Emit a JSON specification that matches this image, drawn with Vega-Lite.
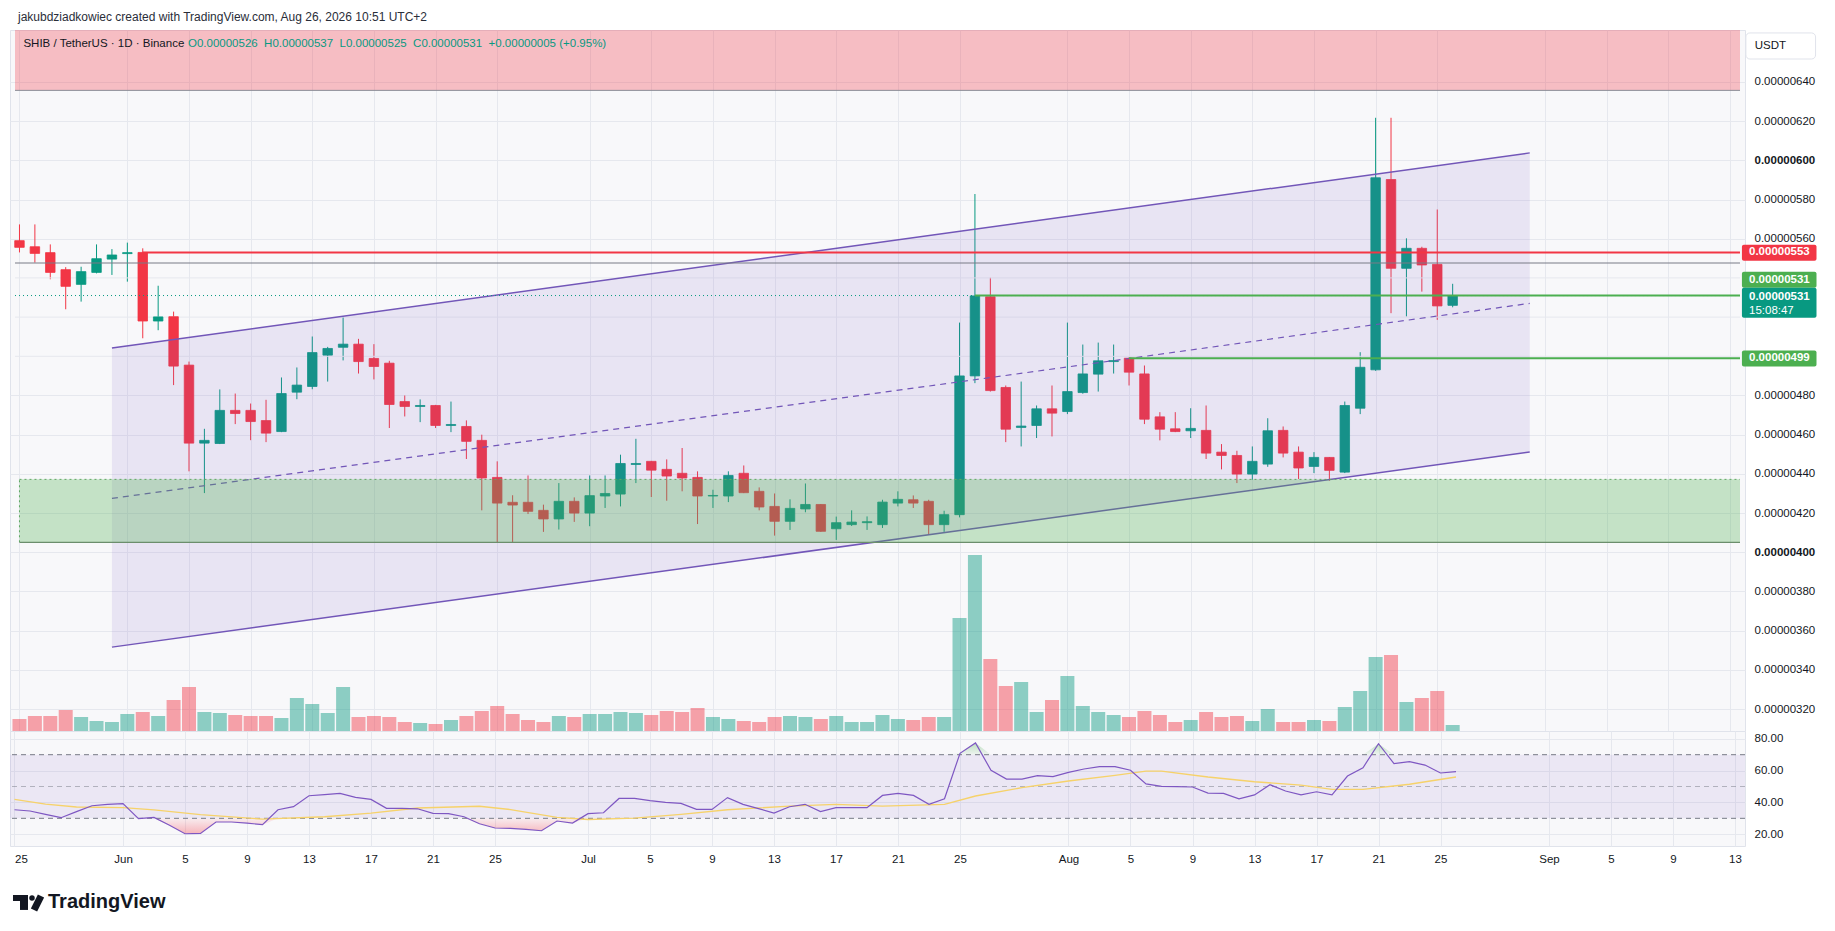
{
  "$schema": "https://vega.github.io/schema/vega-lite/v6.json",
  "background": "white",
  "padding": {"left": 9, "top": 0, "right": 5, "bottom": 5},
  "bounds": "flush",
  "spacing": 0,
  "config": {
    "view": {"stroke": "#e0e3eb", "fill": "#f8f8fa"},
    "axis": {"labelFont": "Liberation Sans", "labelFontSize": 11.5, "labelColor": "#131722", "gridColor": "#e6e8ee", "gridWidth": 1, "domain": false, "tickSize": 0, "tickOpacity": 0},
    "text": {"font": "Liberation Sans"}
  },
  "datasets": {
    "candles": [
      {"d":"2026-05-25","o":5.590e-6,"h":5.673e-6,"l":5.530e-6,"c":5.556e-6,"vol":120,"rsi":35.4},
      {"d":"2026-05-26","o":5.559e-6,"h":5.673e-6,"l":5.478e-6,"c":5.525e-6,"vol":150,"rsi":34.6},
      {"d":"2026-05-27","o":5.529e-6,"h":5.571e-6,"l":5.393e-6,"c":5.428e-6,"vol":150,"rsi":32.5},
      {"d":"2026-05-28","o":5.442e-6,"h":5.455e-6,"l":5.240e-6,"c":5.357e-6,"vol":210,"rsi":30.4},
      {"d":"2026-05-29","o":5.367e-6,"h":5.457e-6,"l":5.279e-6,"c":5.432e-6,"vol":140,"rsi":34.2},
      {"d":"2026-05-30","o":5.428e-6,"h":5.571e-6,"l":5.423e-6,"c":5.498e-6,"vol":100,"rsi":37.9},
      {"d":"2026-05-31","o":5.496e-6,"h":5.547e-6,"l":5.415e-6,"c":5.517e-6,"vol":90,"rsi":38.8},
      {"d":"2026-06-01","o":5.524e-6,"h":5.580e-6,"l":5.381e-6,"c":5.529e-6,"vol":170,"rsi":39.2},
      {"d":"2026-06-02","o":5.530e-6,"h":5.551e-6,"l":5.092e-6,"c":5.180e-6,"vol":190,"rsi":29.8},
      {"d":"2026-06-03","o":5.180e-6,"h":5.360e-6,"l":5.133e-6,"c":5.201e-6,"vol":150,"rsi":30.6},
      {"d":"2026-06-04","o":5.202e-6,"h":5.228e-6,"l":4.853e-6,"c":4.950e-6,"vol":310,"rsi":25.6},
      {"d":"2026-06-05","o":4.955e-6,"h":4.973e-6,"l":4.413e-6,"c":4.557e-6,"vol":440,"rsi":20.3},
      {"d":"2026-06-06","o":4.557e-6,"h":4.630e-6,"l":4.302e-6,"c":4.571e-6,"vol":190,"rsi":20.5},
      {"d":"2026-06-07","o":4.555e-6,"h":4.831e-6,"l":4.552e-6,"c":4.724e-6,"vol":180,"rsi":27.7},
      {"d":"2026-06-08","o":4.724e-6,"h":4.810e-6,"l":4.654e-6,"c":4.708e-6,"vol":160,"rsi":27.7},
      {"d":"2026-06-09","o":4.724e-6,"h":4.759e-6,"l":4.572e-6,"c":4.667e-6,"vol":150,"rsi":27.0},
      {"d":"2026-06-10","o":4.672e-6,"h":4.778e-6,"l":4.562e-6,"c":4.608e-6,"vol":150,"rsi":26.0},
      {"d":"2026-06-11","o":4.616e-6,"h":4.892e-6,"l":4.613e-6,"c":4.810e-6,"vol":130,"rsi":35.4},
      {"d":"2026-06-12","o":4.817e-6,"h":4.943e-6,"l":4.781e-6,"c":4.853e-6,"vol":330,"rsi":37.3},
      {"d":"2026-06-13","o":4.846e-6,"h":5.101e-6,"l":4.832e-6,"c":5.019e-6,"vol":270,"rsi":44.2},
      {"d":"2026-06-14","o":5.006e-6,"h":5.048e-6,"l":4.871e-6,"c":5.040e-6,"vol":180,"rsi":44.9},
      {"d":"2026-06-15","o":5.046e-6,"h":5.203e-6,"l":4.979e-6,"c":5.062e-6,"vol":440,"rsi":45.7},
      {"d":"2026-06-16","o":5.062e-6,"h":5.089e-6,"l":4.912e-6,"c":4.973e-6,"vol":140,"rsi":43.2},
      {"d":"2026-06-17","o":4.989e-6,"h":5.062e-6,"l":4.882e-6,"c":4.948e-6,"vol":150,"rsi":41.9},
      {"d":"2026-06-18","o":4.965e-6,"h":4.977e-6,"l":4.634e-6,"c":4.754e-6,"vol":140,"rsi":36.3},
      {"d":"2026-06-19","o":4.769e-6,"h":4.800e-6,"l":4.693e-6,"c":4.744e-6,"vol":90,"rsi":36.3},
      {"d":"2026-06-20","o":4.744e-6,"h":4.780e-6,"l":4.664e-6,"c":4.749e-6,"vol":80,"rsi":36.0},
      {"d":"2026-06-21","o":4.749e-6,"h":4.752e-6,"l":4.634e-6,"c":4.647e-6,"vol":70,"rsi":33.1},
      {"d":"2026-06-22","o":4.647e-6,"h":4.769e-6,"l":4.613e-6,"c":4.652e-6,"vol":110,"rsi":32.9},
      {"d":"2026-06-23","o":4.642e-6,"h":4.673e-6,"l":4.476e-6,"c":4.566e-6,"vol":150,"rsi":31.0},
      {"d":"2026-06-24","o":4.571e-6,"h":4.600e-6,"l":4.214e-6,"c":4.379e-6,"vol":200,"rsi":26.6},
      {"d":"2026-06-25","o":4.382e-6,"h":4.464e-6,"l":4.048e-6,"c":4.251e-6,"vol":250,"rsi":23.9},
      {"d":"2026-06-26","o":4.255e-6,"h":4.291e-6,"l":4.048e-6,"c":4.241e-6,"vol":170,"rsi":23.7},
      {"d":"2026-06-27","o":4.255e-6,"h":4.392e-6,"l":4.195e-6,"c":4.209e-6,"vol":110,"rsi":23.1},
      {"d":"2026-06-28","o":4.214e-6,"h":4.243e-6,"l":4.104e-6,"c":4.170e-6,"vol":90,"rsi":22.2},
      {"d":"2026-06-29","o":4.170e-6,"h":4.353e-6,"l":4.116e-6,"c":4.260e-6,"vol":150,"rsi":28.3},
      {"d":"2026-06-30","o":4.260e-6,"h":4.280e-6,"l":4.155e-6,"c":4.200e-6,"vol":140,"rsi":27.0},
      {"d":"2026-07-01","o":4.200e-6,"h":4.392e-6,"l":4.133e-6,"c":4.289e-6,"vol":170,"rsi":32.9},
      {"d":"2026-07-02","o":4.287e-6,"h":4.392e-6,"l":4.226e-6,"c":4.300e-6,"vol":170,"rsi":33.5},
      {"d":"2026-07-03","o":4.297e-6,"h":4.498e-6,"l":4.234e-6,"c":4.453e-6,"vol":190,"rsi":42.5},
      {"d":"2026-07-04","o":4.448e-6,"h":4.579e-6,"l":4.353e-6,"c":4.453e-6,"vol":180,"rsi":42.5},
      {"d":"2026-07-05","o":4.464e-6,"h":4.466e-6,"l":4.282e-6,"c":4.419e-6,"vol":160,"rsi":41.1},
      {"d":"2026-07-06","o":4.423e-6,"h":4.474e-6,"l":4.263e-6,"c":4.389e-6,"vol":200,"rsi":40.0},
      {"d":"2026-07-07","o":4.403e-6,"h":4.532e-6,"l":4.311e-6,"c":4.379e-6,"vol":190,"rsi":39.4},
      {"d":"2026-07-08","o":4.382e-6,"h":4.413e-6,"l":4.144e-6,"c":4.287e-6,"vol":230,"rsi":35.6},
      {"d":"2026-07-09","o":4.287e-6,"h":4.319e-6,"l":4.226e-6,"c":4.290e-6,"vol":140,"rsi":35.6},
      {"d":"2026-07-10","o":4.287e-6,"h":4.413e-6,"l":4.256e-6,"c":4.392e-6,"vol":120,"rsi":43.0},
      {"d":"2026-07-11","o":4.403e-6,"h":4.443e-6,"l":4.302e-6,"c":4.304e-6,"vol":100,"rsi":38.8},
      {"d":"2026-07-12","o":4.311e-6,"h":4.331e-6,"l":4.214e-6,"c":4.231e-6,"vol":90,"rsi":36.1},
      {"d":"2026-07-13","o":4.234e-6,"h":4.300e-6,"l":4.085e-6,"c":4.158e-6,"vol":140,"rsi":33.3},
      {"d":"2026-07-14","o":4.158e-6,"h":4.270e-6,"l":4.114e-6,"c":4.224e-6,"vol":150,"rsi":37.3},
      {"d":"2026-07-15","o":4.221e-6,"h":4.351e-6,"l":4.204e-6,"c":4.244e-6,"vol":140,"rsi":38.8},
      {"d":"2026-07-16","o":4.244e-6,"h":4.246e-6,"l":4.104e-6,"c":4.107e-6,"vol":120,"rsi":34.2},
      {"d":"2026-07-17","o":4.120e-6,"h":4.182e-6,"l":4.063e-6,"c":4.151e-6,"vol":150,"rsi":36.7},
      {"d":"2026-07-18","o":4.141e-6,"h":4.214e-6,"l":4.134e-6,"c":4.154e-6,"vol":90,"rsi":36.7},
      {"d":"2026-07-19","o":4.151e-6,"h":4.183e-6,"l":4.114e-6,"c":4.156e-6,"vol":90,"rsi":36.7},
      {"d":"2026-07-20","o":4.141e-6,"h":4.268e-6,"l":4.124e-6,"c":4.256e-6,"vol":160,"rsi":44.4},
      {"d":"2026-07-21","o":4.251e-6,"h":4.311e-6,"l":4.234e-6,"c":4.270e-6,"vol":120,"rsi":45.7},
      {"d":"2026-07-22","o":4.268e-6,"h":4.290e-6,"l":4.226e-6,"c":4.251e-6,"vol":110,"rsi":44.4},
      {"d":"2026-07-23","o":4.260e-6,"h":4.268e-6,"l":4.093e-6,"c":4.141e-6,"vol":140,"rsi":38.8},
      {"d":"2026-07-24","o":4.141e-6,"h":4.212e-6,"l":4.104e-6,"c":4.192e-6,"vol":140,"rsi":42.3},
      {"d":"2026-07-25","o":4.192e-6,"h":5.172e-6,"l":4.178e-6,"c":4.900e-6,"vol":1130,"rsi":70.9},
      {"d":"2026-07-26","o":4.900e-6,"h":5.828e-6,"l":4.863e-6,"c":5.308e-6,"vol":1760,"rsi":77.4},
      {"d":"2026-07-27","o":5.304e-6,"h":5.401e-6,"l":4.820e-6,"c":4.825e-6,"vol":720,"rsi":60.2},
      {"d":"2026-07-28","o":4.841e-6,"h":4.851e-6,"l":4.562e-6,"c":4.628e-6,"vol":450,"rsi":54.7},
      {"d":"2026-07-29","o":4.637e-6,"h":4.871e-6,"l":4.540e-6,"c":4.644e-6,"vol":490,"rsi":54.7},
      {"d":"2026-07-30","o":4.647e-6,"h":4.749e-6,"l":4.583e-6,"c":4.732e-6,"vol":190,"rsi":56.8},
      {"d":"2026-07-31","o":4.732e-6,"h":4.851e-6,"l":4.591e-6,"c":4.710e-6,"vol":310,"rsi":56.2},
      {"d":"2026-08-01","o":4.718e-6,"h":5.172e-6,"l":4.705e-6,"c":4.820e-6,"vol":550,"rsi":58.9},
      {"d":"2026-08-02","o":4.815e-6,"h":5.060e-6,"l":4.809e-6,"c":4.910e-6,"vol":250,"rsi":61.0},
      {"d":"2026-08-03","o":4.909e-6,"h":5.070e-6,"l":4.820e-6,"c":4.977e-6,"vol":190,"rsi":62.5},
      {"d":"2026-08-04","o":4.973e-6,"h":5.060e-6,"l":4.912e-6,"c":4.978e-6,"vol":160,"rsi":62.5},
      {"d":"2026-08-05","o":4.990e-6,"h":4.994e-6,"l":4.851e-6,"c":4.919e-6,"vol":140,"rsi":60.2},
      {"d":"2026-08-06","o":4.910e-6,"h":4.953e-6,"l":4.654e-6,"c":4.679e-6,"vol":200,"rsi":51.6},
      {"d":"2026-08-07","o":4.691e-6,"h":4.715e-6,"l":4.571e-6,"c":4.628e-6,"vol":160,"rsi":50.1},
      {"d":"2026-08-08","o":4.630e-6,"h":4.715e-6,"l":4.613e-6,"c":4.616e-6,"vol":90,"rsi":49.9},
      {"d":"2026-08-09","o":4.620e-6,"h":4.735e-6,"l":4.583e-6,"c":4.632e-6,"vol":110,"rsi":49.7},
      {"d":"2026-08-10","o":4.622e-6,"h":4.749e-6,"l":4.476e-6,"c":4.506e-6,"vol":190,"rsi":45.9},
      {"d":"2026-08-11","o":4.511e-6,"h":4.552e-6,"l":4.423e-6,"c":4.494e-6,"vol":140,"rsi":45.7},
      {"d":"2026-08-12","o":4.494e-6,"h":4.518e-6,"l":4.353e-6,"c":4.399e-6,"vol":150,"rsi":42.3},
      {"d":"2026-08-13","o":4.399e-6,"h":4.540e-6,"l":4.370e-6,"c":4.464e-6,"vol":100,"rsi":44.7},
      {"d":"2026-08-14","o":4.450e-6,"h":4.684e-6,"l":4.436e-6,"c":4.620e-6,"vol":220,"rsi":51.1},
      {"d":"2026-08-15","o":4.622e-6,"h":4.642e-6,"l":4.484e-6,"c":4.506e-6,"vol":90,"rsi":47.2},
      {"d":"2026-08-16","o":4.511e-6,"h":4.540e-6,"l":4.374e-6,"c":4.430e-6,"vol":90,"rsi":44.7},
      {"d":"2026-08-17","o":4.438e-6,"h":4.511e-6,"l":4.404e-6,"c":4.484e-6,"vol":110,"rsi":46.7},
      {"d":"2026-08-18","o":4.484e-6,"h":4.486e-6,"l":4.365e-6,"c":4.418e-6,"vol":100,"rsi":44.7},
      {"d":"2026-08-19","o":4.409e-6,"h":4.769e-6,"l":4.404e-6,"c":4.749e-6,"vol":240,"rsi":56.6},
      {"d":"2026-08-20","o":4.735e-6,"h":5.021e-6,"l":4.705e-6,"c":4.944e-6,"vol":400,"rsi":61.8},
      {"d":"2026-08-21","o":4.931e-6,"h":6.217e-6,"l":4.926e-6,"c":5.911e-6,"vol":740,"rsi":76.9},
      {"d":"2026-08-22","o":5.902e-6,"h":6.217e-6,"l":5.220e-6,"c":5.449e-6,"vol":760,"rsi":64.4},
      {"d":"2026-08-23","o":5.449e-6,"h":5.602e-6,"l":5.203e-6,"c":5.551e-6,"vol":290,"rsi":65.6},
      {"d":"2026-08-24","o":5.551e-6,"h":5.559e-6,"l":5.330e-6,"c":5.466e-6,"vol":330,"rsi":63.5},
      {"d":"2026-08-25","o":5.469e-6,"h":5.749e-6,"l":5.186e-6,"c":5.257e-6,"vol":400,"rsi":58.5},
      {"d":"2026-08-26","o":5.260e-6,"h":5.370e-6,"l":5.250e-6,"c":5.310e-6,"vol":60,"rsi":59.3}
    ],
    "ma": [
      {"d":"2026-05-25","ma":41.9},{"d":"2026-05-27","ma":38.9},{"d":"2026-05-29","ma":37.1},
      {"d":"2026-06-01","ma":36.7},{"d":"2026-06-03","ma":35.3},{"d":"2026-06-06","ma":32.3},
      {"d":"2026-06-10","ma":29.5},{"d":"2026-06-14","ma":31.0},{"d":"2026-06-17","ma":33.3},
      {"d":"2026-06-20","ma":36.5},{"d":"2026-06-24","ma":37.6},{"d":"2026-06-26","ma":35.5},
      {"d":"2026-06-29","ma":30.6},{"d":"2026-07-01","ma":29.3},{"d":"2026-07-04","ma":30.1},
      {"d":"2026-07-07","ma":32.5},{"d":"2026-07-10","ma":35.4},{"d":"2026-07-14","ma":37.7},
      {"d":"2026-07-17","ma":38.8},{"d":"2026-07-20","ma":37.7},{"d":"2026-07-24","ma":38.8},
      {"d":"2026-07-26","ma":44.0},{"d":"2026-07-29","ma":49.3},{"d":"2026-08-01","ma":53.5},
      {"d":"2026-08-04","ma":57.0},{"d":"2026-08-06","ma":59.7},{"d":"2026-08-07","ma":59.7},
      {"d":"2026-08-10","ma":56.0},{"d":"2026-08-13","ma":53.0},{"d":"2026-08-16","ma":50.9},
      {"d":"2026-08-18","ma":48.2},{"d":"2026-08-20","ma":48.2},{"d":"2026-08-23","ma":51.4},
      {"d":"2026-08-26","ma":56.0}
    ],
    "channel": [
      {"d":"2026-05-31","up":5.042e-6,"lo":3.516e-6,"mid":4.275e-6},
      {"d":"2026-08-31","up":6.038e-6,"lo":4.512e-6,"mid":5.270e-6}
    ],
    "hiddenGrid": [{"p":0.000005},{"p":0.0000052},{"p":0.0000054}],
    "one": [{}]
  },
  "vconcat": [
    {
      "width": 1735,
      "height": 701,
      "resolve": {"scale": {"y": "independent"}, "axis": {"y": "independent"}},
      "layer": [
        {
          "data": {"name": "candles"},
          "mark": {"type": "rule", "strokeWidth": 1},
          "encoding": {
            "x": {"field": "d", "type": "temporal", "title": null, "scale": {"type": "utc", "nice": false, "domain": [{"year":2026,"month":5,"date":24,"hours":17,"minutes":2,"utc":true},{"year":2026,"month":9,"date":13,"hours":15,"minutes":29,"utc":true}]},
              "axis": {"values": [{"year":2026,"month":5,"date":25,"utc":true},{"year":2026,"month":6,"date":1,"utc":true},{"year":2026,"month":6,"date":5,"utc":true},{"year":2026,"month":6,"date":9,"utc":true},{"year":2026,"month":6,"date":13,"utc":true},{"year":2026,"month":6,"date":17,"utc":true},{"year":2026,"month":6,"date":21,"utc":true},{"year":2026,"month":6,"date":25,"utc":true},{"year":2026,"month":7,"date":1,"utc":true},{"year":2026,"month":7,"date":5,"utc":true},{"year":2026,"month":7,"date":9,"utc":true},{"year":2026,"month":7,"date":13,"utc":true},{"year":2026,"month":7,"date":17,"utc":true},{"year":2026,"month":7,"date":21,"utc":true},{"year":2026,"month":7,"date":25,"utc":true},{"year":2026,"month":8,"date":1,"utc":true},{"year":2026,"month":8,"date":5,"utc":true},{"year":2026,"month":8,"date":9,"utc":true},{"year":2026,"month":8,"date":13,"utc":true},{"year":2026,"month":8,"date":17,"utc":true},{"year":2026,"month":8,"date":21,"utc":true},{"year":2026,"month":8,"date":25,"utc":true},{"year":2026,"month":9,"date":1,"utc":true},{"year":2026,"month":9,"date":5,"utc":true},{"year":2026,"month":9,"date":9,"utc":true},{"year":2026,"month":9,"date":13,"utc":true}], "labels": false, "grid": true, "title": null}},
            "y": {"field": "l", "type": "quantitative", "title": null, "scale": {"domain": [0.000003088, 0.000006665], "nice": false, "zero": false},
              "axis": {"orient": "right", "values": [0.0000032,0.0000034,0.0000036,0.0000038,0.000004,0.0000042,0.0000044,0.0000046,0.0000048,0.0000056,0.0000058,0.000006,0.0000062,0.0000064], "format": ".8f", "labelPadding": 9, "grid": true, "title": null, "labelFontWeight": {"condition": {"test": "abs(datum.value - 0.000006) < 1e-10 || abs(datum.value - 0.000004) < 1e-10", "value": "bold"}, "value": "normal"}}},
            "y2": {"field": "h"},
            "color": {"condition": {"test": "datum.c >= datum.o", "value": "#089981"}, "value": "#f23645"}
          }
        },
        {
          "data": {"name": "hiddenGrid"},
          "mark": {"type": "rule", "color": "#e6e8ee", "strokeWidth": 1},
          "encoding": {
            "x": {"datum": {"year":2026,"month":5,"date":24,"hours":17,"minutes":2,"utc":true}, "type": "temporal", "title": null},
            "x2": {"datum": {"year":2026,"month":9,"date":13,"hours":15,"minutes":29,"utc":true}},
            "y": {"field": "p", "type": "quantitative", "scale": {"domain": [0.000003088, 0.000006665], "nice": false, "zero": false}, "axis": null}
          }
        },
        {
          "data": {"name": "candles"},
          "mark": {"type": "bar", "width": 14, "opacity": 0.45},
          "encoding": {
            "x": {"field": "d", "type": "temporal", "title": null},
            "y": {"field": "vol", "type": "quantitative", "scale": {"domain": [0, 7010], "nice": false}, "axis": null},
            "color": {"condition": {"test": "datum.c >= datum.o", "value": "#089981"}, "value": "#f23645"}
          }
        },
        {
          "data": {"name": "one"},
          "mark": {"type": "rect", "fill": "white"},
          "encoding": {
            "x": {"datum": {"year":2026,"month":5,"date":24,"hours":17,"minutes":2,"utc":true}, "type": "temporal", "title": null},
            "x2": {"datum": {"year":2026,"month":9,"date":13,"hours":15,"minutes":29,"utc":true}},
            "y": {"datum": 0.000006665, "type": "quantitative", "scale": {"domain": [0.000003088, 0.000006665], "nice": false, "zero": false}, "axis": null},
            "y2": {"datum": 0.000006813}
          }
        },
        {
          "data": {"name": "one"},
          "mark": {"type": "rect", "fill": "#f23645", "fillOpacity": 0.3},
          "encoding": {
            "x": {"datum": {"year":2026,"month":5,"date":24,"hours":17,"minutes":2,"utc":true}, "type": "temporal", "title": null},
            "x2": {"datum": {"year":2026,"month":9,"date":13,"hours":15,"minutes":29,"utc":true}},
            "y": {"datum": 0.000006357, "type": "quantitative", "scale": {"domain": [0.000003088, 0.000006665], "nice": false, "zero": false}, "axis": null},
            "y2": {"datum": 0.000006665}
          }
        },
        {
          "data": {"name": "one"},
          "mark": {"type": "rule", "color": "#8a8d96", "strokeWidth": 1},
          "encoding": {
            "x": {"datum": {"year":2026,"month":5,"date":24,"hours":17,"minutes":2,"utc":true}, "type": "temporal", "title": null},
            "x2": {"datum": {"year":2026,"month":9,"date":13,"hours":15,"minutes":29,"utc":true}},
            "y": {"datum": 0.000006357, "type": "quantitative", "scale": {"domain": [0.000003088, 0.000006665], "nice": false, "zero": false}, "axis": null}
          }
        },
        {
          "data": {"name": "candles"},
          "mark": {"type": "bar", "width": 9.5, "strokeWidth": 0.8},
          "encoding": {
            "x": {"field": "d", "type": "temporal", "title": null},
            "y": {"field": "o", "type": "quantitative", "scale": {"domain": [0.000003088, 0.000006665], "nice": false, "zero": false}, "axis": null},
            "y2": {"field": "c"},
            "fill": {"condition": {"test": "datum.c >= datum.o", "value": "#089981"}, "value": "#f23645"},
            "stroke": {"condition": {"test": "datum.c >= datum.o", "value": "#089981"}, "value": "#f23645"}
          }
        },
        {
          "data": {"name": "channel"},
          "mark": {"type": "area", "color": "#7e57c2", "opacity": 0.12},
          "encoding": {
            "x": {"field": "d", "type": "temporal", "title": null},
            "y": {"field": "up", "type": "quantitative", "scale": {"domain": [0.000003088, 0.000006665], "nice": false, "zero": false}, "axis": null},
            "y2": {"field": "lo"}
          }
        },
        {
          "data": {"name": "channel"},
          "mark": {"type": "line", "color": "#7256b8", "strokeWidth": 1.5},
          "encoding": {
            "x": {"field": "d", "type": "temporal", "title": null},
            "y": {"field": "up", "type": "quantitative", "scale": {"domain": [0.000003088, 0.000006665], "nice": false, "zero": false}, "axis": null}
          }
        },
        {
          "data": {"name": "channel"},
          "mark": {"type": "line", "color": "#7256b8", "strokeWidth": 1.5},
          "encoding": {
            "x": {"field": "d", "type": "temporal", "title": null},
            "y": {"field": "lo", "type": "quantitative", "scale": {"domain": [0.000003088, 0.000006665], "nice": false, "zero": false}, "axis": null}
          }
        },
        {
          "data": {"name": "channel"},
          "mark": {"type": "line", "color": "#7256b8", "strokeWidth": 1.2, "strokeDash": [6, 5]},
          "encoding": {
            "x": {"field": "d", "type": "temporal", "title": null},
            "y": {"field": "mid", "type": "quantitative", "scale": {"domain": [0.000003088, 0.000006665], "nice": false, "zero": false}, "axis": null}
          }
        },
        {
          "data": {"name": "one"},
          "mark": {"type": "rect", "fill": "#4caf50", "fillOpacity": 0.3},
          "encoding": {
            "x": {"datum": {"year":2026,"month":5,"date":25,"utc":true}, "type": "temporal", "title": null},
            "x2": {"datum": {"year":2026,"month":9,"date":13,"hours":15,"minutes":29,"utc":true}},
            "y": {"datum": 0.000004051, "type": "quantitative", "scale": {"domain": [0.000003088, 0.000006665], "nice": false, "zero": false}, "axis": null},
            "y2": {"datum": 0.000004372}
          }
        },
        {
          "data": {"name": "one"},
          "mark": {"type": "rule", "color": "#5fa863", "strokeWidth": 1, "strokeDash": [2, 3]},
          "encoding": {
            "x": {"datum": {"year":2026,"month":5,"date":25,"utc":true}, "type": "temporal", "title": null},
            "x2": {"datum": {"year":2026,"month":9,"date":13,"hours":15,"minutes":29,"utc":true}},
            "y": {"datum": 0.000004372, "type": "quantitative", "scale": {"domain": [0.000003088, 0.000006665], "nice": false, "zero": false}, "axis": null}
          }
        },
        {
          "data": {"name": "one"},
          "mark": {"type": "rule", "color": "#5fa863", "strokeWidth": 1, "strokeDash": [2, 3]},
          "encoding": {
            "x": {"datum": {"year":2026,"month":5,"date":25,"utc":true}, "type": "temporal", "title": null},
            "y": {"datum": 0.000004051, "type": "quantitative", "scale": {"domain": [0.000003088, 0.000006665], "nice": false, "zero": false}, "axis": null},
            "y2": {"datum": 0.000004372}
          }
        },
        {
          "data": {"name": "one"},
          "mark": {"type": "rule", "color": "#6b8e6c", "strokeWidth": 1.2},
          "encoding": {
            "x": {"datum": {"year":2026,"month":5,"date":25,"utc":true}, "type": "temporal", "title": null},
            "x2": {"datum": {"year":2026,"month":9,"date":13,"hours":15,"minutes":29,"utc":true}},
            "y": {"datum": 0.000004051, "type": "quantitative", "scale": {"domain": [0.000003088, 0.000006665], "nice": false, "zero": false}, "axis": null}
          }
        },
        {
          "data": {"name": "one"},
          "mark": {"type": "rule", "color": "#787b86", "strokeWidth": 1},
          "encoding": {
            "x": {"datum": {"year":2026,"month":5,"date":24,"hours":17,"minutes":2,"utc":true}, "type": "temporal", "title": null},
            "x2": {"datum": {"year":2026,"month":9,"date":13,"hours":15,"minutes":29,"utc":true}},
            "y": {"datum": 0.000005476, "type": "quantitative", "scale": {"domain": [0.000003088, 0.000006665], "nice": false, "zero": false}, "axis": null}
          }
        },
        {
          "data": {"name": "one"},
          "mark": {"type": "rule", "color": "#089981", "strokeWidth": 1, "strokeDash": [1, 3]},
          "encoding": {
            "x": {"datum": {"year":2026,"month":5,"date":24,"hours":17,"minutes":2,"utc":true}, "type": "temporal", "title": null},
            "x2": {"datum": {"year":2026,"month":9,"date":13,"hours":15,"minutes":29,"utc":true}},
            "y": {"datum": 0.00000531, "type": "quantitative", "scale": {"domain": [0.000003088, 0.000006665], "nice": false, "zero": false}, "axis": null}
          }
        },
        {
          "data": {"name": "one"},
          "mark": {"type": "rule", "color": "#f23645", "strokeWidth": 2},
          "encoding": {
            "x": {"datum": {"year":2026,"month":6,"date":2,"utc":true}, "type": "temporal", "title": null},
            "x2": {"datum": {"year":2026,"month":9,"date":13,"hours":15,"minutes":29,"utc":true}},
            "y": {"datum": 0.00000553, "type": "quantitative", "scale": {"domain": [0.000003088, 0.000006665], "nice": false, "zero": false}, "axis": null}
          }
        },
        {
          "data": {"name": "one"},
          "mark": {"type": "rule", "color": "#4caf50", "strokeWidth": 2},
          "encoding": {
            "x": {"datum": {"year":2026,"month":7,"date":26,"utc":true}, "type": "temporal", "title": null},
            "x2": {"datum": {"year":2026,"month":9,"date":13,"hours":15,"minutes":29,"utc":true}},
            "y": {"datum": 0.00000531, "type": "quantitative", "scale": {"domain": [0.000003088, 0.000006665], "nice": false, "zero": false}, "axis": null}
          }
        },
        {
          "data": {"name": "one"},
          "mark": {"type": "rule", "color": "#4caf50", "strokeWidth": 2},
          "encoding": {
            "x": {"datum": {"year":2026,"month":8,"date":5,"utc":true}, "type": "temporal", "title": null},
            "x2": {"datum": {"year":2026,"month":9,"date":13,"hours":15,"minutes":29,"utc":true}},
            "y": {"datum": 0.00000499, "type": "quantitative", "scale": {"domain": [0.000003088, 0.000006665], "nice": false, "zero": false}, "axis": null}
          }
        },
        {
          "data": {"name": "one"},
          "mark": {"type": "rect", "fill": "#f23645", "cornerRadius": 2},
          "encoding": {
            "x": {"datum": {"year":2026,"month":9,"date":13,"hours":18,"minutes":29,"utc":true}, "type": "temporal", "title": null},
            "x2": {"datum": {"year":2026,"month":9,"date":18,"hours":14,"minutes":38,"utc":true}},
            "y": {"datum": 0.000005569, "type": "quantitative", "scale": {"domain": [0.000003088, 0.000006665], "nice": false, "zero": false}, "axis": null},
            "y2": {"datum": 0.000005488}
          }
        },
        {
          "data": {"name": "one"},
          "mark": {"type": "rect", "fill": "#4caf50", "cornerRadius": 2},
          "encoding": {
            "x": {"datum": {"year":2026,"month":9,"date":13,"hours":18,"minutes":29,"utc":true}, "type": "temporal", "title": null},
            "x2": {"datum": {"year":2026,"month":9,"date":18,"hours":14,"minutes":38,"utc":true}},
            "y": {"datum": 0.000005432, "type": "quantitative", "scale": {"domain": [0.000003088, 0.000006665], "nice": false, "zero": false}, "axis": null},
            "y2": {"datum": 0.00000535}
          }
        },
        {
          "data": {"name": "one"},
          "mark": {"type": "rect", "fill": "#089981", "cornerRadius": 2},
          "encoding": {
            "x": {"datum": {"year":2026,"month":9,"date":13,"hours":18,"minutes":29,"utc":true}, "type": "temporal", "title": null},
            "x2": {"datum": {"year":2026,"month":9,"date":18,"hours":14,"minutes":38,"utc":true}},
            "y": {"datum": 0.00000535, "type": "quantitative", "scale": {"domain": [0.000003088, 0.000006665], "nice": false, "zero": false}, "axis": null},
            "y2": {"datum": 0.000005197}
          }
        },
        {
          "data": {"name": "one"},
          "mark": {"type": "rect", "fill": "#4caf50", "cornerRadius": 2},
          "encoding": {
            "x": {"datum": {"year":2026,"month":9,"date":13,"hours":18,"minutes":29,"utc":true}, "type": "temporal", "title": null},
            "x2": {"datum": {"year":2026,"month":9,"date":18,"hours":14,"minutes":38,"utc":true}},
            "y": {"datum": 0.000005029, "type": "quantitative", "scale": {"domain": [0.000003088, 0.000006665], "nice": false, "zero": false}, "axis": null},
            "y2": {"datum": 0.000004948}
          }
        },
        {
          "data": {"name": "one"},
          "mark": {"type": "rect", "fill": "white", "stroke": "#e0e3eb", "strokeWidth": 1, "cornerRadius": 4},
          "encoding": {
            "x": {"datum": {"year":2026,"month":9,"date":14,"hours":0,"minutes":40,"utc":true}, "type": "temporal", "title": null},
            "x2": {"datum": {"year":2026,"month":9,"date":18,"hours":13,"minutes":10,"utc":true}},
            "y": {"datum": 0.00000665, "type": "quantitative", "scale": {"domain": [0.000003088, 0.000006665], "nice": false, "zero": false}, "axis": null},
            "y2": {"datum": 0.000006517}
          }
        },
        {
          "data": {"name": "one"},
          "mark": {"type": "text", "text": "0.00000553", "align": "left", "baseline": "middle", "color": "white", "fontSize": 11.5, "fontWeight": "bold"},
          "encoding": {
            "x": {"datum": {"year":2026,"month":9,"date":14,"hours":5,"minutes":30,"utc":true}, "type": "temporal", "title": null},
            "y": {"datum": 0.00000553, "type": "quantitative", "scale": {"domain": [0.000003088, 0.000006665], "nice": false, "zero": false}, "axis": null}
          }
        },
        {
          "data": {"name": "one"},
          "mark": {"type": "text", "text": "0.00000531", "align": "left", "baseline": "middle", "color": "white", "fontSize": 11.5, "fontWeight": "bold"},
          "encoding": {
            "x": {"datum": {"year":2026,"month":9,"date":14,"hours":5,"minutes":30,"utc":true}, "type": "temporal", "title": null},
            "y": {"datum": 0.000005391, "type": "quantitative", "scale": {"domain": [0.000003088, 0.000006665], "nice": false, "zero": false}, "axis": null}
          }
        },
        {
          "data": {"name": "one"},
          "mark": {"type": "text", "text": "0.00000531", "align": "left", "baseline": "middle", "color": "white", "fontSize": 11.5, "fontWeight": "bold"},
          "encoding": {
            "x": {"datum": {"year":2026,"month":9,"date":14,"hours":5,"minutes":30,"utc":true}, "type": "temporal", "title": null},
            "y": {"datum": 0.000005304, "type": "quantitative", "scale": {"domain": [0.000003088, 0.000006665], "nice": false, "zero": false}, "axis": null}
          }
        },
        {
          "data": {"name": "one"},
          "mark": {"type": "text", "text": "15:08:47", "align": "left", "baseline": "middle", "color": "white", "fontSize": 11.5},
          "encoding": {
            "x": {"datum": {"year":2026,"month":9,"date":14,"hours":5,"minutes":30,"utc":true}, "type": "temporal", "title": null},
            "y": {"datum": 0.000005233, "type": "quantitative", "scale": {"domain": [0.000003088, 0.000006665], "nice": false, "zero": false}, "axis": null}
          }
        },
        {
          "data": {"name": "one"},
          "mark": {"type": "text", "text": "0.00000499", "align": "left", "baseline": "middle", "color": "white", "fontSize": 11.5, "fontWeight": "bold"},
          "encoding": {
            "x": {"datum": {"year":2026,"month":9,"date":14,"hours":5,"minutes":30,"utc":true}, "type": "temporal", "title": null},
            "y": {"datum": 0.00000499, "type": "quantitative", "scale": {"domain": [0.000003088, 0.000006665], "nice": false, "zero": false}, "axis": null}
          }
        },
        {
          "data": {"name": "one"},
          "mark": {"type": "text", "text": "USDT", "align": "left", "baseline": "middle", "color": "#131722", "fontSize": 11.5},
          "encoding": {
            "x": {"datum": {"year":2026,"month":9,"date":14,"hours":14,"minutes":24,"utc":true}, "type": "temporal", "title": null},
            "y": {"datum": 0.000006583, "type": "quantitative", "scale": {"domain": [0.000003088, 0.000006665], "nice": false, "zero": false}, "axis": null}
          }
        },
        {
          "data": {"name": "one"},
          "mark": {"type": "text", "text": "jakubdziadkowiec created with TradingView.com, Aug 26, 2026 10:51 UTC+2", "align": "left", "baseline": "middle", "color": "#2a2e39", "fontSize": 12},
          "encoding": {
            "x": {"datum": {"year":2026,"month":5,"date":24,"hours":21,"minutes":40,"utc":true}, "type": "temporal", "title": null},
            "y": {"datum": 0.000006731, "type": "quantitative", "scale": {"domain": [0.000003088, 0.000006665], "nice": false, "zero": false}, "axis": null}
          }
        },
        {
          "data": {"name": "one"},
          "mark": {"type": "text", "text": "SHIB / TetherUS · 1D · Binance", "align": "left", "baseline": "middle", "color": "#131722", "fontSize": 11.5},
          "encoding": {
            "x": {"datum": {"year":2026,"month":5,"date":25,"hours":6,"minutes":11,"utc":true}, "type": "temporal", "title": null},
            "y": {"datum": 0.000006594, "type": "quantitative", "scale": {"domain": [0.000003088, 0.000006665], "nice": false, "zero": false}, "axis": null}
          }
        },
        {
          "data": {"name": "one"},
          "mark": {"type": "text", "text": "O0.00000526 \u00a0H0.00000537 \u00a0L0.00000525 \u00a0C0.00000531 \u00a0+0.00000005 (+0.95%)", "align": "left", "baseline": "middle", "color": "#089981", "fontSize": 11.5},
          "encoding": {
            "x": {"datum": {"year":2026,"month":6,"date":4,"hours":22,"minutes":27,"utc":true}, "type": "temporal", "title": null},
            "y": {"datum": 0.000006594, "type": "quantitative", "scale": {"domain": [0.000003088, 0.000006665], "nice": false, "zero": false}, "axis": null}
          }
        }
      ]
    },
    {
      "width": 1735,
      "height": 115,
      "resolve": {"scale": {"y": "independent"}, "axis": {"y": "independent"}},
      "layer": [
        {
          "data": {"name": "candles"},
          "mark": {"type": "line", "color": "#7e57c2", "strokeWidth": 1.2, "opacity": 0},
          "encoding": {
            "x": {"field": "d", "type": "temporal", "title": null, "scale": {"type": "utc", "nice": false, "domain": [{"year":2026,"month":5,"date":24,"hours":17,"minutes":2,"utc":true},{"year":2026,"month":9,"date":13,"hours":15,"minutes":29,"utc":true}]},
              "axis": {"values": [{"year":2026,"month":5,"date":25,"utc":true},{"year":2026,"month":6,"date":1,"utc":true},{"year":2026,"month":6,"date":5,"utc":true},{"year":2026,"month":6,"date":9,"utc":true},{"year":2026,"month":6,"date":13,"utc":true},{"year":2026,"month":6,"date":17,"utc":true},{"year":2026,"month":6,"date":21,"utc":true},{"year":2026,"month":6,"date":25,"utc":true},{"year":2026,"month":7,"date":1,"utc":true},{"year":2026,"month":7,"date":5,"utc":true},{"year":2026,"month":7,"date":9,"utc":true},{"year":2026,"month":7,"date":13,"utc":true},{"year":2026,"month":7,"date":17,"utc":true},{"year":2026,"month":7,"date":21,"utc":true},{"year":2026,"month":7,"date":25,"utc":true},{"year":2026,"month":8,"date":1,"utc":true},{"year":2026,"month":8,"date":5,"utc":true},{"year":2026,"month":8,"date":9,"utc":true},{"year":2026,"month":8,"date":13,"utc":true},{"year":2026,"month":8,"date":17,"utc":true},{"year":2026,"month":8,"date":21,"utc":true},{"year":2026,"month":8,"date":25,"utc":true},{"year":2026,"month":9,"date":1,"utc":true},{"year":2026,"month":9,"date":5,"utc":true},{"year":2026,"month":9,"date":9,"utc":true},{"year":2026,"month":9,"date":13,"utc":true}], "labelExpr": "utcdate(datum.value) == 1 ? utcFormat(datum.value, '%b') : utcFormat(datum.value, '%-d')", "labelFlush": 5, "labelPadding": 7, "grid": true, "title": null}},
            "y": {"field": "rsi", "type": "quantitative", "title": null, "scale": {"domain": [12.6, 84.9], "nice": false, "zero": false},
              "axis": {"orient": "right", "values": [20, 40, 60, 80], "format": ".2f", "labelPadding": 9, "grid": true, "title": null}}
          }
        },
        {
          "data": {"name": "one"},
          "mark": {"type": "rect", "fill": "#7e57c2", "fillOpacity": 0.1},
          "encoding": {
            "x": {"datum": {"year":2026,"month":5,"date":24,"hours":17,"minutes":2,"utc":true}, "type": "temporal", "title": null},
            "x2": {"datum": {"year":2026,"month":9,"date":13,"hours":15,"minutes":29,"utc":true}},
            "y": {"datum": 30, "type": "quantitative", "scale": {"domain": [12.6, 84.9], "nice": false, "zero": false}, "axis": null},
            "y2": {"datum": 70}
          }
        },
        {
          "data": {"name": "candles"},
          "mark": {"type": "area", "interpolate": "linear", "fill": {"gradient": "linear", "x1": 0, "y1": 1, "x2": 0, "y2": 0, "stops": [{"offset": 0, "color": "rgba(242,54,69,0.35)"}, {"offset": 1, "color": "rgba(242,54,69,0.06)"}]}},
          "encoding": {
            "x": {"field": "d", "type": "temporal", "title": null},
            "y": {"field": "rsi", "type": "quantitative", "scale": {"domain": [12.6, 30], "range": [115, 87.3], "clamp": true, "nice": false, "zero": false}, "axis": null},
            "y2": {"datum": 30}
          }
        },
        {
          "data": {"name": "candles"},
          "mark": {"type": "area", "interpolate": "linear", "fill": {"gradient": "linear", "x1": 0, "y1": 0, "x2": 0, "y2": 1, "stops": [{"offset": 0, "color": "rgba(76,175,80,0.35)"}, {"offset": 1, "color": "rgba(76,175,80,0.06)"}]}},
          "encoding": {
            "x": {"field": "d", "type": "temporal", "title": null},
            "y": {"field": "rsi", "type": "quantitative", "scale": {"domain": [70, 84.9], "range": [23.7, 0], "clamp": true, "nice": false, "zero": false}, "axis": null},
            "y2": {"datum": 70}
          }
        },
        {
          "data": {"name": "one"},
          "mark": {"type": "rule", "color": "#787b86", "strokeWidth": 1, "strokeDash": [5, 4]},
          "encoding": {
            "y": {"datum": 70, "type": "quantitative", "scale": {"domain": [12.6, 84.9], "nice": false, "zero": false}, "axis": null}
          }
        },
        {
          "data": {"name": "one"},
          "mark": {"type": "rule", "color": "#787b86", "strokeWidth": 1, "strokeDash": [5, 4], "opacity": 0.5},
          "encoding": {
            "y": {"datum": 50, "type": "quantitative", "scale": {"domain": [12.6, 84.9], "nice": false, "zero": false}, "axis": null}
          }
        },
        {
          "data": {"name": "one"},
          "mark": {"type": "rule", "color": "#787b86", "strokeWidth": 1, "strokeDash": [5, 4]},
          "encoding": {
            "y": {"datum": 30, "type": "quantitative", "scale": {"domain": [12.6, 84.9], "nice": false, "zero": false}, "axis": null}
          }
        },
        {
          "data": {"name": "ma"},
          "mark": {"type": "line", "color": "#f6d26a", "strokeWidth": 1.4},
          "encoding": {
            "x": {"field": "d", "type": "temporal", "title": null},
            "y": {"field": "ma", "type": "quantitative", "scale": {"domain": [12.6, 84.9], "nice": false, "zero": false}, "axis": null}
          }
        },
        {
          "data": {"name": "candles"},
          "mark": {"type": "line", "color": "#7e57c2", "strokeWidth": 1.2},
          "encoding": {
            "x": {"field": "d", "type": "temporal", "title": null},
            "y": {"field": "rsi", "type": "quantitative", "scale": {"domain": [12.6, 84.9], "nice": false, "zero": false}, "axis": null}
          }
        },
        {
          "data": {"name": "one"},
          "mark": {"type": "rect", "fill": "#131722"},
          "encoding": {
            "x": {"datum": {"year":2026,"month":5,"date":24,"hours":21,"minutes":40,"utc":true}, "type": "temporal", "title": null},
            "x2": {"datum": {"year":2026,"month":5,"date":25,"hours":20,"minutes":54,"utc":true}},
            "y": {"datum": -18.2, "type": "quantitative", "scale": {"domain": [12.6, 84.9], "nice": false, "zero": false}, "axis": null},
            "y2": {"datum": -22.0}
          }
        },
        {
          "data": {"name": "one"},
          "mark": {"type": "rect", "fill": "#131722"},
          "encoding": {
            "x": {"datum": {"year":2026,"month":5,"date":25,"hours":8,"minutes":31,"utc":true}, "type": "temporal", "title": null},
            "x2": {"datum": {"year":2026,"month":5,"date":25,"hours":20,"minutes":54,"utc":true}},
            "y": {"datum": -18.2, "type": "quantitative", "scale": {"domain": [12.6, 84.9], "nice": false, "zero": false}, "axis": null},
            "y2": {"datum": -27.6}
          }
        },
        {
          "data": {"name": "one"},
          "mark": {"type": "point", "filled": true, "color": "#131722", "size": 30, "opacity": 1},
          "encoding": {
            "x": {"datum": {"year":2026,"month":5,"date":26,"hours":3,"minutes":6,"utc":true}, "type": "temporal", "title": null},
            "y": {"datum": -20.1, "type": "quantitative", "scale": {"domain": [12.6, 84.9], "nice": false, "zero": false}, "axis": null}
          }
        },
        {
          "data": {"name": "one"},
          "mark": {"type": "rule", "color": "#131722", "strokeWidth": 7, "strokeCap": "butt"},
          "encoding": {
            "x": {"datum": {"year":2026,"month":5,"date":26,"hours":17,"minutes":0,"utc":true}, "type": "temporal", "title": null},
            "x2": {"datum": {"year":2026,"month":5,"date":26,"hours":6,"minutes":11,"utc":true}},
            "y": {"datum": -18.8, "type": "quantitative", "scale": {"domain": [12.6, 84.9], "nice": false, "zero": false}, "axis": null},
            "y2": {"datum": -27.6}
          }
        },
        {
          "data": {"name": "one"},
          "mark": {"type": "text", "text": "TradingView", "align": "left", "baseline": "middle", "color": "#131722", "fontSize": 20, "fontWeight": "bold"},
          "encoding": {
            "x": {"datum": {"year":2026,"month":5,"date":27,"hours":3,"minutes":52,"utc":true}, "type": "temporal", "title": null},
            "y": {"datum": -22.6, "type": "quantitative", "scale": {"domain": [12.6, 84.9], "nice": false, "zero": false}, "axis": null}
          }
        }
      ]
    }
  ]
}
